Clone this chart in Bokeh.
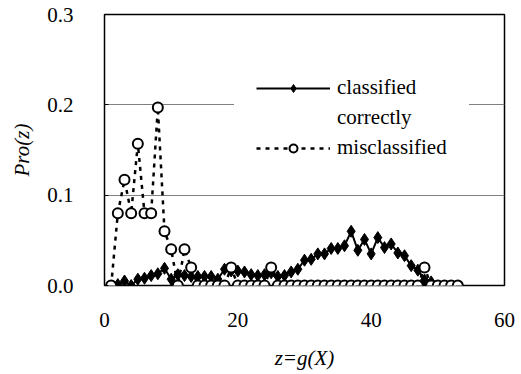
from bokeh.plotting import figure
from bokeh.models import Legend, LegendItem, FixedTicker, NumeralTickFormatter, Range1d
from bokeh.embed import file_html
from bokeh.resources import INLINE

# ---- data ----
mis_x = list(range(1, 54))
mis_y = [0.0, 0.08, 0.117, 0.08, 0.157, 0.08, 0.08, 0.197, 0.06, 0.04,
         0.0, 0.04, 0.02, 0.0, 0.0, 0.0, 0.0, 0.0, 0.02, 0.0,
         0.0, 0.0, 0.0, 0.0, 0.02, 0.0, 0.0, 0.0, 0.0, 0.0,
         0.0, 0.0, 0.0, 0.0, 0.0, 0.0, 0.0, 0.0, 0.0, 0.0,
         0.0, 0.0, 0.0, 0.0, 0.0, 0.0, 0.0, 0.02, 0.0, 0.0,
         0.0, 0.0, 0.0]

cor_x = list(range(2, 50))
cor_y = [0.001, 0.005, 0.0, 0.007, 0.008, 0.011, 0.013, 0.019, 0.007, 0.012,
         0.011, 0.010, 0.010, 0.010, 0.010, 0.007, 0.018, 0.016, 0.016, 0.015,
         0.012, 0.011, 0.012, 0.014, 0.010, 0.011, 0.015, 0.018, 0.028, 0.029,
         0.035, 0.035, 0.041, 0.041, 0.044, 0.060, 0.039, 0.051, 0.035, 0.053,
         0.042, 0.046, 0.036, 0.033, 0.022, 0.017, 0.006, 0.004]

x_ticks = [0, 20, 40, 60]
y_ticks = [0.0, 0.1, 0.2, 0.3]

FONT = "Liberation Serif"
FS = "21px"

p = figure(width=517, height=372, output_backend="svg", toolbar_location=None,
           x_range=Range1d(0, 60), y_range=Range1d(0, 0.3),
           min_border_left=104, min_border_right=13, min_border_top=14, min_border_bottom=86)
p.background_fill_color = "white"
p.border_fill_color = "white"
p.outline_line_color = "black"
p.outline_line_width = 1.5

p.xgrid.grid_line_color = None
p.ygrid.grid_line_color = "#808080"
p.ygrid.grid_line_width = 1

p.xaxis.ticker = FixedTicker(ticks=x_ticks)
p.yaxis.ticker = FixedTicker(ticks=y_ticks)
p.yaxis.formatter = NumeralTickFormatter(format="0.0")

for ax in (p.xaxis, p.yaxis):
    ax.axis_line_color = None
    ax.minor_tick_line_color = None
    ax.major_tick_out = 0
    ax.major_label_text_font = FONT
    ax.major_label_text_font_size = FS
    ax.major_label_text_color = "black"
    ax.axis_label_text_font = FONT
    ax.axis_label_text_font_size = FS
    ax.axis_label_text_font_style = "italic"
    ax.axis_label_text_color = "black"

p.xaxis.major_tick_line_color = None
p.yaxis.major_tick_in = 4
p.yaxis.major_tick_line_color = "black"
p.xaxis.major_label_standoff = 27
p.yaxis.major_label_standoff = 31
p.xaxis.axis_label = "z=g(X)"
p.yaxis.axis_label = "Pro(z)"
p.xaxis.axis_label_standoff = 16
p.yaxis.axis_label_standoff = 10

l1 = p.line(cor_x, cor_y, line_color="black", line_width=2)
s1 = p.scatter(cor_x, cor_y, marker="diamond", size=12, fill_color="black", line_color="black")
l2 = p.line(mis_x, mis_y, line_color="black", line_width=2.5, line_dash="4 5")
s2 = p.scatter(mis_x, mis_y, marker="circle", size=10, fill_color="white", line_color="black", line_width=2)
dummy = p.line([], [], line_alpha=0)

legend = Legend(items=[
    LegendItem(label="classified", renderers=[l1, s1]),
    LegendItem(label="correctly", renderers=[dummy]),
    LegendItem(label="misclassified", renderers=[l2, s2]),
], location=(130, 103))
legend.background_fill_color = "white"
legend.background_fill_alpha = 1.0
legend.border_line_color = "white"
legend.border_line_alpha = 0.0
legend.label_text_font = FONT
legend.label_text_font_size = FS
legend.label_text_color = "black"
legend.glyph_width = 74
legend.glyph_height = 20
legend.label_height = 20
legend.label_standoff = 7
legend.spacing = 5
legend.padding = 22
legend.margin = 0
p.add_layout(legend, "center")

open("out.html", "w").write(file_html(p, INLINE))
